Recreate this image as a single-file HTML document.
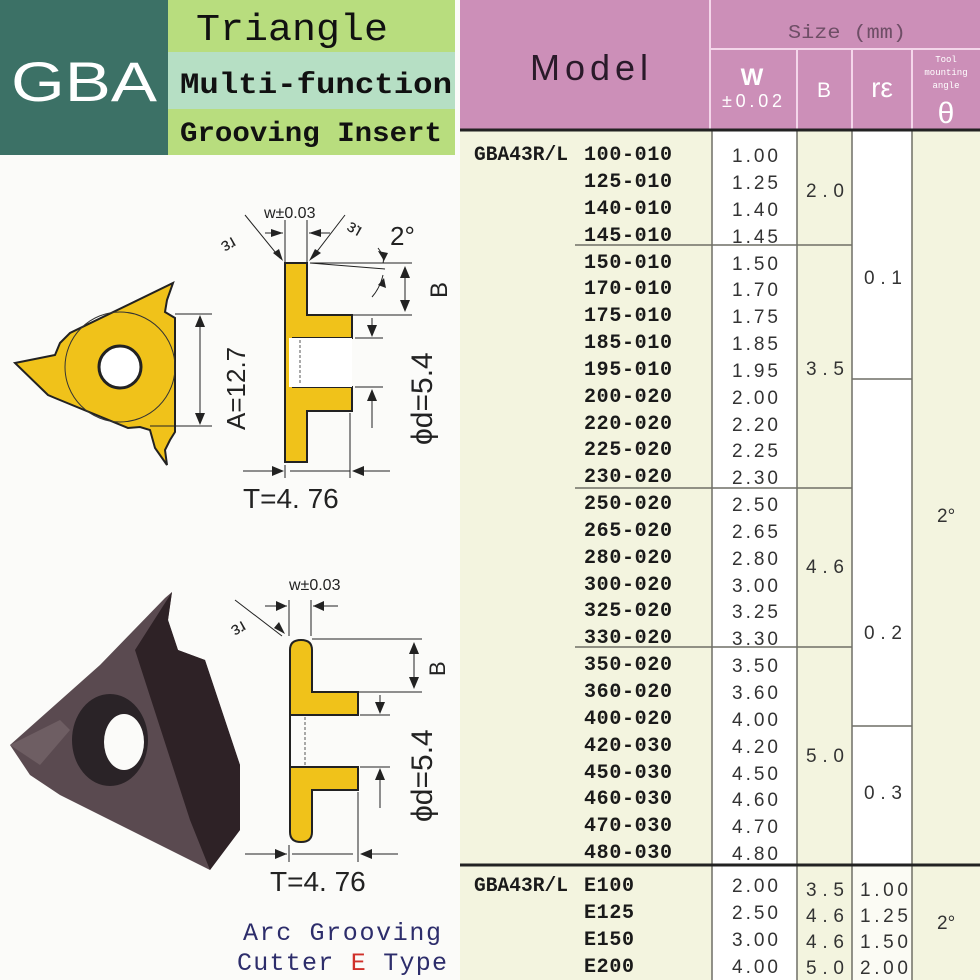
<!DOCTYPE html>
<html><head><meta charset="utf-8"><style>
html,body{margin:0;padding:0;background:#fff}
svg{display:block}
.m{font-family:"Liberation Mono",monospace;font-weight:bold;font-size:20px;fill:#1a1a1a}
.v{font-family:"Liberation Sans",sans-serif;font-size:19px;fill:#333}
.d{font-family:"Liberation Sans",sans-serif;fill:#222}
</style></head><body>
<svg width="980" height="980" viewBox="0 0 980 980" xmlns="http://www.w3.org/2000/svg">
<rect width="980" height="980" fill="#fbfbf9"/>
<rect x="0" y="0" width="168" height="155" fill="#3c7166"/>
<text x="84" y="101" text-anchor="middle" font-family="Liberation Sans,sans-serif" font-size="56" fill="#fff" textLength="146" lengthAdjust="spacingAndGlyphs">GBA</text>
<rect x="168" y="0" width="287" height="52" fill="#b8dd7e"/>
<rect x="168" y="52" width="287" height="57" fill="#b6dfc4"/>
<rect x="168" y="109" width="287" height="46" fill="#b8dd7e"/>
<text x="196" y="40" font-family="Liberation Mono,monospace" font-size="38" fill="#111" textLength="192" lengthAdjust="spacingAndGlyphs">Triangle</text>
<text x="180" y="93" font-family="Liberation Mono,monospace" font-weight="bold" font-size="30" fill="#111" textLength="272" lengthAdjust="spacingAndGlyphs">Multi-function</text>
<text x="180" y="141" font-family="Liberation Mono,monospace" font-weight="bold" font-size="28" fill="#111" textLength="262" lengthAdjust="spacingAndGlyphs">Grooving Insert</text>
<rect x="460" y="0" width="520" height="130" fill="#cc8fb8"/>
<line x1="710" y1="0" x2="710" y2="130" stroke="#f4d6ea" stroke-width="2"/>
<line x1="710" y1="49" x2="980" y2="49" stroke="#f4d6ea" stroke-width="2"/>
<line x1="797" y1="49" x2="797" y2="130" stroke="#f4d6ea" stroke-width="2"/>
<line x1="852" y1="49" x2="852" y2="130" stroke="#f4d6ea" stroke-width="2"/>
<line x1="912" y1="49" x2="912" y2="130" stroke="#f4d6ea" stroke-width="2"/>
<text x="530" y="80" font-family="Liberation Sans,sans-serif" font-size="36" fill="#2a1a2a" textLength="118" lengthAdjust="spacing">Model</text>
<text x="788" y="38" font-family="Liberation Mono,monospace" font-size="19" fill="#6e4e66" textLength="118" lengthAdjust="spacingAndGlyphs">Size (mm)</text>
<text x="752" y="85" text-anchor="middle" font-family="Liberation Sans,sans-serif" font-weight="bold" font-size="24" fill="#fff">W</text>
<text x="752" y="107" text-anchor="middle" font-family="Liberation Sans,sans-serif" font-size="18" fill="#fff" textLength="60">±0.02</text>
<text x="824" y="97" text-anchor="middle" font-family="Liberation Sans,sans-serif" font-size="21" fill="#fff">B</text>
<text x="882" y="97" text-anchor="middle" font-family="Liberation Sans,sans-serif" font-size="28" fill="#fff">rε</text>
<text x="946" y="62" text-anchor="middle" font-family="Liberation Mono,monospace" font-size="9" fill="#fff">Tool</text>
<text x="946" y="75" text-anchor="middle" font-family="Liberation Mono,monospace" font-size="9" fill="#fff">mounting</text>
<text x="946" y="88" text-anchor="middle" font-family="Liberation Mono,monospace" font-size="9" fill="#fff">angle</text>
<text x="946" y="123" text-anchor="middle" font-family="Liberation Sans,sans-serif" font-size="30" fill="#fff">θ</text>
<rect x="460" y="130" width="520" height="850" fill="#f3f4df"/>
<rect x="712" y="130" width="85" height="850" fill="#fff"/>
<rect x="852" y="130" width="60" height="735" fill="#fff"/>
<rect x="852" y="865" width="60" height="115" fill="#fbfbf4"/>
<g stroke="#6f6f66" stroke-width="1.5">
<line x1="712" y1="130" x2="712" y2="980"/>
<line x1="797" y1="130" x2="797" y2="980"/>
<line x1="852" y1="130" x2="852" y2="980"/>
<line x1="912" y1="130" x2="912" y2="980"/>
<line x1="575" y1="245" x2="852" y2="245"/>
<line x1="575" y1="488" x2="852" y2="488"/>
<line x1="575" y1="647" x2="852" y2="647"/>
<line x1="852" y1="379" x2="912" y2="379"/>
<line x1="852" y1="726" x2="912" y2="726"/>
</g>
<line x1="460" y1="130" x2="980" y2="130" stroke="#222" stroke-width="3"/>
<line x1="460" y1="865" x2="980" y2="865" stroke="#222" stroke-width="3"/>
<g class="m">
<text x="474" y="160" textLength="94" lengthAdjust="spacingAndGlyphs">GBA43R/L</text>
<text x="584" y="160" textLength="88">100-010</text>
<text x="584" y="187" textLength="88">125-010</text>
<text x="584" y="214" textLength="88">140-010</text>
<text x="584" y="241" textLength="88">145-010</text>
<text x="584" y="268" textLength="88">150-010</text>
<text x="584" y="294" textLength="88">170-010</text>
<text x="584" y="321" textLength="88">175-010</text>
<text x="584" y="348" textLength="88">185-010</text>
<text x="584" y="375" textLength="88">195-010</text>
<text x="584" y="402" textLength="88">200-020</text>
<text x="584" y="429" textLength="88">220-020</text>
<text x="584" y="455" textLength="88">225-020</text>
<text x="584" y="482" textLength="88">230-020</text>
<text x="584" y="509" textLength="88">250-020</text>
<text x="584" y="536" textLength="88">265-020</text>
<text x="584" y="563" textLength="88">280-020</text>
<text x="584" y="590" textLength="88">300-020</text>
<text x="584" y="616" textLength="88">325-020</text>
<text x="584" y="643" textLength="88">330-020</text>
<text x="584" y="670" textLength="88">350-020</text>
<text x="584" y="697" textLength="88">360-020</text>
<text x="584" y="724" textLength="88">400-020</text>
<text x="584" y="751" textLength="88">420-030</text>
<text x="584" y="778" textLength="88">450-030</text>
<text x="584" y="804" textLength="88">460-030</text>
<text x="584" y="831" textLength="88">470-030</text>
<text x="584" y="858" textLength="88">480-030</text>
<text x="474" y="891" textLength="94" lengthAdjust="spacingAndGlyphs">GBA43R/L</text>
<text x="584" y="891" textLength="50">E100</text>
<text x="584" y="918" textLength="50">E125</text>
<text x="584" y="945" textLength="50">E150</text>
<text x="584" y="972" textLength="50">E200</text>
</g>
<g class="v">
<text x="732" y="162" textLength="46">1.00</text>
<text x="732" y="189" textLength="46">1.25</text>
<text x="732" y="216" textLength="46">1.40</text>
<text x="732" y="243" textLength="46">1.45</text>
<text x="732" y="270" textLength="46">1.50</text>
<text x="732" y="296" textLength="46">1.70</text>
<text x="732" y="323" textLength="46">1.75</text>
<text x="732" y="350" textLength="46">1.85</text>
<text x="732" y="377" textLength="46">1.95</text>
<text x="732" y="404" textLength="46">2.00</text>
<text x="732" y="431" textLength="46">2.20</text>
<text x="732" y="457" textLength="46">2.25</text>
<text x="732" y="484" textLength="46">2.30</text>
<text x="732" y="511" textLength="46">2.50</text>
<text x="732" y="538" textLength="46">2.65</text>
<text x="732" y="565" textLength="46">2.80</text>
<text x="732" y="592" textLength="46">3.00</text>
<text x="732" y="618" textLength="46">3.25</text>
<text x="732" y="645" textLength="46">3.30</text>
<text x="732" y="672" textLength="46">3.50</text>
<text x="732" y="699" textLength="46">3.60</text>
<text x="732" y="726" textLength="46">4.00</text>
<text x="732" y="753" textLength="46">4.20</text>
<text x="732" y="780" textLength="46">4.50</text>
<text x="732" y="806" textLength="46">4.60</text>
<text x="732" y="833" textLength="46">4.70</text>
<text x="732" y="860" textLength="46">4.80</text>
<text x="732" y="892" textLength="46">2.00</text>
<text x="732" y="919" textLength="46">2.50</text>
<text x="732" y="946" textLength="46">3.00</text>
<text x="732" y="973" textLength="46">4.00</text>
<text x="806" y="197" textLength="38">2.0</text>
<text x="806" y="375" textLength="38">3.5</text>
<text x="806" y="573" textLength="38">4.6</text>
<text x="806" y="762" textLength="38">5.0</text>
<text x="806" y="896" textLength="38">3.5</text>
<text x="806" y="922" textLength="38">4.6</text>
<text x="806" y="948" textLength="38">4.6</text>
<text x="806" y="974" textLength="38">5.0</text>
<text x="864" y="284" textLength="38">0.1</text>
<text x="864" y="639" textLength="38">0.2</text>
<text x="864" y="799" textLength="38">0.3</text>
<text x="860" y="896" textLength="48">1.00</text>
<text x="860" y="922" textLength="48">1.25</text>
<text x="860" y="948" textLength="48">1.50</text>
<text x="860" y="974" textLength="48">2.00</text>
<text x="937" y="522">2°</text>
<text x="937" y="929">2°</text>
</g>
<polygon points="173,283 167,300 165,312 175,318 175,432 170,440 165,450 167,465 155,448 150,430 140,427 128,428 55,398 48,395 15,363 55,355 60,343 70,333" fill="#f0c21a" stroke="#222" stroke-width="2"/>
<circle cx="120" cy="367" r="55" fill="none" stroke="#333" stroke-width="1"/>
<circle cx="120" cy="367" r="21" fill="#fff" stroke="#222" stroke-width="3"/>
<g stroke="#222" stroke-width="1" fill="none">
<line x1="175" y1="314" x2="212" y2="314"/><line x1="150" y1="426" x2="212" y2="426"/>
<line x1="200" y1="320" x2="200" y2="420"/>
</g>
<polygon points="200,315 195,327 205,327" fill="#222"/><polygon points="200,425 195,413 205,413" fill="#222"/>
<text class="d" font-size="26" transform="translate(245,430) rotate(-90)">A=12.7</text>
<path d="M285,263 H307 V315 H352 V338 H293 V387 H352 V411 H307 V462 H285 Z" fill="#f0c21a" stroke="#222" stroke-width="2"/>
<rect x="289" y="338" width="63" height="49" fill="#fff"/>
<line x1="300" y1="340" x2="300" y2="385" stroke="#555" stroke-dasharray="3,2"/>
<line x1="285" y1="338" x2="285" y2="387" stroke="#222" stroke-width="2"/>
<g stroke="#222" stroke-width="1" fill="none">
<line x1="285" y1="220" x2="285" y2="262"/><line x1="307" y1="220" x2="307" y2="262"/>
<line x1="265" y1="233" x2="283" y2="233"/><line x1="309" y1="233" x2="330" y2="233"/>
<line x1="245" y1="215" x2="280" y2="258"/><line x1="345" y1="215" x2="312" y2="258"/>
<line x1="310" y1="263" x2="412" y2="263"/><line x1="310" y1="263" x2="385" y2="269"/>
<line x1="352" y1="315" x2="412" y2="315"/><line x1="405" y1="270" x2="405" y2="310"/>
<line x1="355" y1="338" x2="383" y2="338"/><line x1="355" y1="387" x2="383" y2="387"/>
<line x1="372" y1="318" x2="372" y2="335"/><line x1="372" y1="390" x2="372" y2="428"/>
<line x1="285" y1="465" x2="285" y2="478"/><line x1="350" y1="413" x2="350" y2="478"/>
<line x1="243" y1="471" x2="282" y2="471"/><line x1="290" y1="471" x2="350" y2="471"/><line x1="355" y1="471" x2="390" y2="471"/>
<path d="M378,248 Q385,257 383,263"/><path d="M383,275 Q380,288 372,297"/>
</g>
<g fill="#222">
<polygon points="283,233 271,229 271,237"/><polygon points="309,233 321,229 321,237"/>
<polygon points="283,261 273,253 279,249"/><polygon points="309,261 315,249 321,253"/>
<polygon points="405,266 400,278 410,278"/><polygon points="405,312 400,300 410,300"/>
<polygon points="372,337 367,325 377,325"/><polygon points="372,389 367,401 377,401"/>
<polygon points="284,471 272,466 272,476"/><polygon points="352,471 364,466 364,476"/>
<polygon points="384,261 378,251 388,253"/><polygon points="384,278 378,285 386,288"/>
</g>
<text class="d" x="264" y="218" font-size="16" font-family="Liberation Mono,monospace">w±0.03</text>
<text class="d" font-size="18" transform="translate(226,240) rotate(150)" text-anchor="middle">rε</text>
<text class="d" font-size="18" transform="translate(352,233) rotate(30) scale(-1,1)" text-anchor="middle">rε</text>
<text class="d" x="390" y="245" font-size="26">2°</text>
<text class="d" font-size="24" transform="translate(447,298) rotate(-90)">B</text>
<text class="d" font-size="30" transform="translate(432,445) rotate(-90)">ϕd=5.4</text>
<text class="d" x="243" y="508" font-size="28">T=4. 76</text>
<polygon points="10,745 100,665 165,598 172,592 168,620 178,650 205,660 215,690 240,765 240,830 210,870 150,840 60,795 30,775" fill="#5a4a50"/>
<polygon points="135,650 172,592 168,620 178,650 205,660 215,690 240,765 240,830 210,870 190,820" fill="#2e2226"/>
<polygon points="10,745 60,720 70,730 40,765" fill="#6e5e63"/>
<ellipse cx="110" cy="740" rx="38" ry="46" fill="#2a2327"/>
<ellipse cx="124" cy="742" rx="20" ry="28" fill="#fbfbf9"/>
<path d="M290,650 Q290,640 301,640 Q312,640 312,650 V692 H358 V715 H290 Z M290,767 H358 V790 H312 V832 Q312,842 301,842 Q290,842 290,832 Z" fill="#f0c21a" stroke="#222" stroke-width="2"/>
<line x1="290" y1="715" x2="290" y2="767" stroke="#222" stroke-width="2"/>
<line x1="305" y1="717" x2="305" y2="765" stroke="#555" stroke-dasharray="3,2"/>
<g stroke="#222" stroke-width="1" fill="none">
<line x1="289" y1="600" x2="289" y2="636"/><line x1="311" y1="600" x2="311" y2="636"/>
<line x1="265" y1="606" x2="287" y2="606"/><line x1="313" y1="606" x2="338" y2="606"/>
<line x1="235" y1="600" x2="282" y2="636"/>
<line x1="312" y1="639" x2="422" y2="639"/><line x1="358" y1="692" x2="422" y2="692"/>
<line x1="414" y1="645" x2="414" y2="686"/>
<line x1="360" y1="715" x2="390" y2="715"/><line x1="360" y1="767" x2="390" y2="767"/>
<line x1="380" y1="695" x2="380" y2="712"/><line x1="380" y1="770" x2="380" y2="808"/>
<line x1="289" y1="845" x2="289" y2="862"/><line x1="358" y1="792" x2="358" y2="862"/>
<line x1="245" y1="854" x2="287" y2="854"/><line x1="292" y1="854" x2="353" y2="854"/><line x1="362" y1="854" x2="398" y2="854"/>
</g>
<g fill="#222">
<polygon points="287,606 276,601 276,611"/><polygon points="313,606 324,601 324,611"/>
<polygon points="285,634 274,628 279,622"/>
<polygon points="414,642 409,654 419,654"/><polygon points="414,689 409,677 419,677"/>
<polygon points="380,714 375,702 385,702"/><polygon points="380,768 375,780 385,780"/>
<polygon points="287,854 275,849 275,859"/><polygon points="360,854 372,849 372,859"/>
</g>
<text class="d" x="289" y="590" font-size="16" font-family="Liberation Mono,monospace">w±0.03</text>
<text class="d" font-size="18" transform="translate(236,624) rotate(150)" text-anchor="middle">rε</text>
<text class="d" font-size="22" transform="translate(445,676) rotate(-90)">B</text>
<text class="d" font-size="30" transform="translate(432,822) rotate(-90)">ϕd=5.4</text>
<text class="d" x="270" y="891" font-size="28">T=4. 76</text>
<text x="243" y="940" font-family="Liberation Mono,monospace" font-size="25" fill="#2d2d6b" textLength="198">Arc Grooving</text>
<text x="237" y="970" font-family="Liberation Mono,monospace" font-size="25" fill="#2d2d6b" textLength="210">Cutter <tspan fill="#d0302a">E</tspan> Type</text>
</svg>
</body></html>
